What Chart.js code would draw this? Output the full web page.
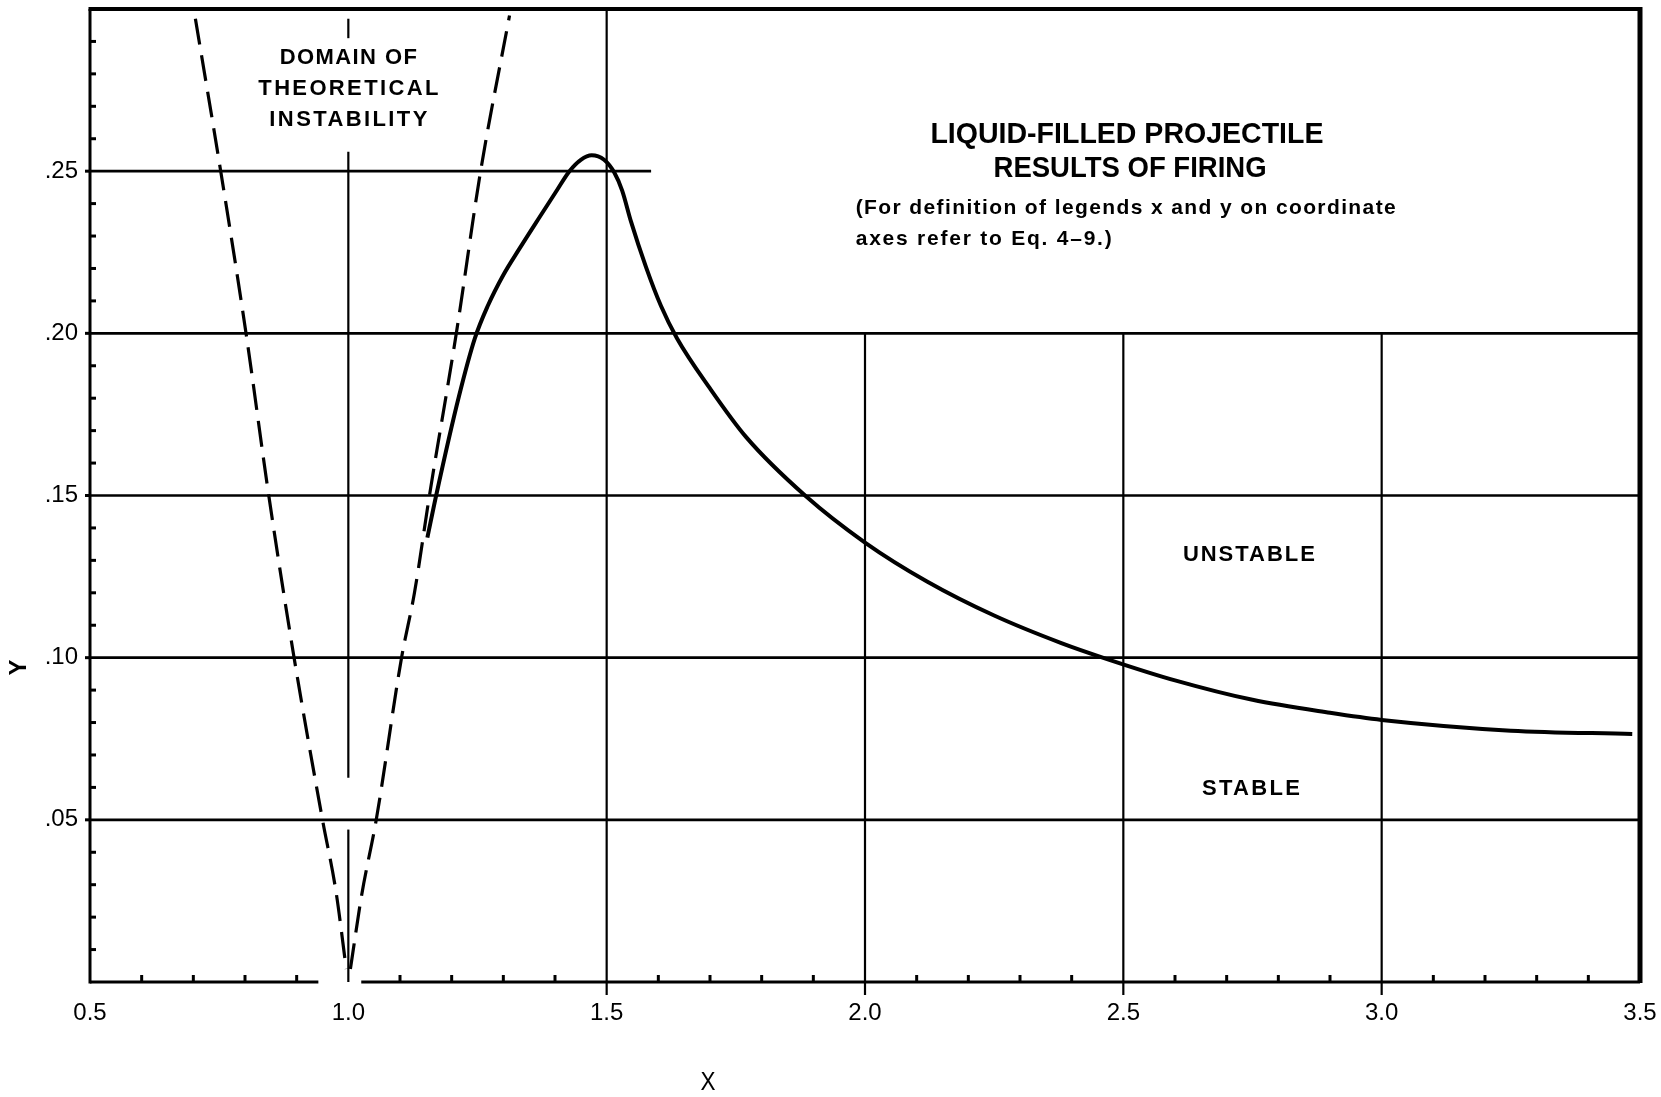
<!DOCTYPE html>
<html>
<head>
<meta charset="utf-8">
<title>Liquid-filled projectile - results of firing</title>
<script src="https://cdn.jsdelivr.net/npm/chart.js@4.4.1/dist/chart.umd.min.js"></script>
<style>
  html, body { margin: 0; padding: 0; background: #fff; }
</style>
</head>
<body>
<canvas id="firingChart" width="1661" height="1097"></canvas>
<script>
// stability boundary from firings (solid curve)
const stabilityX = [1.153, 1.170, 1.214, 1.245, 1.270, 1.300, 1.330, 1.370, 1.400, 1.428, 1.450, 1.471, 1.495, 1.515, 1.530, 1.547, 1.576, 1.605, 1.636, 1.700, 1.770, 1.884, 2.000, 2.120, 2.250, 2.380, 2.470, 2.600, 2.750, 2.900, 3.000, 3.250, 3.485];
const stabilityY = [0.137, 0.150, 0.1805, 0.1985, 0.2085, 0.2180, 0.2258, 0.2358, 0.2432, 0.2500, 0.2535, 0.2549, 0.2535, 0.2495, 0.2440, 0.2345, 0.2205, 0.2085, 0.1985, 0.1830, 0.1680, 0.150, 0.1355, 0.1235, 0.1130, 0.1045, 0.0995, 0.0930, 0.0870, 0.0830, 0.0808, 0.0775, 0.0765];

// domain of theoretical instability (dashed), left and right branches
const leftBoundX = [0.704, 0.753, 0.802, 0.846, 0.895, 0.950, 0.976, 0.996];
const leftBoundY = [0.297, 0.250, 0.200, 0.150, 0.100, 0.050, 0.028, 0.004];
const rightBoundX = [1.004, 1.026, 1.054, 1.103, 1.128, 1.157, 1.209, 1.256, 1.312];
const rightBoundY = [0.004, 0.027, 0.050, 0.100, 0.120, 0.150, 0.200, 0.250, 0.298];

const xTicks = [0.5, 1.0, 1.5, 2.0, 2.5, 3.0, 3.5];
const xTickLabels = ["0.5", "1.0", "1.5", "2.0", "2.5", "3.0", "3.5"];
const yTicks = [0.05, 0.10, 0.15, 0.20, 0.25];
const yTickLabels = [".05", ".10", ".15", ".20", ".25"];

// ruled lines of the printed grid: [value, from, to]
const hRules = [[0.25, 0.5, 1.586], [0.20, 0.5, 3.5], [0.15, 0.5, 3.5], [0.10, 0.5, 3.5], [0.05, 0.5, 3.5]];
const vRules = [[1.0, 0.297, 0.291], [1.0, 0.256, 0.063], [1.0, 0.047, 0.0], [1.5, 0.30, -0.004], [2.0, 0.20, -0.004], [2.5, 0.20, -0.004], [3.0, 0.20, -0.004]];

function pts(xs, ys) {
    return xs.map((x, i) => ({x: x, y: ys[i]}));
}

function seg(ctx, x0, y0, x1, y1) {
    ctx.beginPath();
    ctx.moveTo(x0, y0);
    ctx.lineTo(x1, y1);
    ctx.stroke();
}

// draw text squeezed / spaced to the width it has on the original sheet
function fitText(ctx, text, left, cy, width, font) {
    ctx.font = font;
    ctx.letterSpacing = "0px";
    const natural = ctx.measureText(text).width;
    ctx.textAlign = "left";
    ctx.textBaseline = "middle";
    if (natural > width || text.length < 2) {
        ctx.save();
        ctx.translate(left, cy);
        ctx.scale(width / natural, 1);
        ctx.fillText(text, 0, 0);
        ctx.restore();
    } else {
        ctx.letterSpacing = ((width - natural) / (text.length - 1)) + "px";
        ctx.fillText(text, left, cy);
        ctx.letterSpacing = "0px";
    }
}

const labels = [
    {t: "DOMAIN OF", x: 1.0, y: 0.285, w: 137, font: "bold 22px 'Liberation Sans'", align: "center"},
    {t: "THEORETICAL", x: 1.0, y: 0.2754, w: 180, font: "bold 22px 'Liberation Sans'", align: "center"},
    {t: "INSTABILITY", x: 1.0, y: 0.2658, w: 158, font: "bold 22px 'Liberation Sans'", align: "center"},
    {t: "LIQUID-FILLED PROJECTILE", x: 2.507, y: 0.2613, w: 393, font: "bold 30px 'Liberation Sans'", align: "center"},
    {t: "RESULTS OF FIRING", x: 2.513, y: 0.2508, w: 273, font: "bold 30px 'Liberation Sans'", align: "center"},
    {t: "(For definition of legends x and y on coordinate", x: 1.982, y: 0.2385, w: 540, font: "bold 21px 'Liberation Sans'", align: "left"},
    {t: "axes refer to Eq. 4\u20139.)", x: 1.982, y: 0.229, w: 256, font: "bold 21px 'Liberation Sans'", align: "left"},
    {t: "UNSTABLE", x: 2.743, y: 0.1317, w: 132, font: "bold 22px 'Liberation Sans'", align: "center"},
    {t: "STABLE", x: 2.747, y: 0.0595, w: 98, font: "bold 22px 'Liberation Sans'", align: "center"}
];

const sheetPlugin = {
    id: "sheet",
    beforeDatasetsDraw(chart) {
        const {ctx, chartArea: a, scales: {x, y}} = chart;
        ctx.save();
        ctx.strokeStyle = "#000";
        ctx.lineCap = "butt";

        ctx.lineWidth = 2.6;
        hRules.forEach(([v, f, t]) => {
            const py = y.getPixelForValue(v);
            seg(ctx, x.getPixelForValue(f), py, x.getPixelForValue(t), py);
        });
        ctx.lineWidth = 2.2;
        vRules.forEach(([v, f, t]) => {
            const px = x.getPixelForValue(v);
            seg(ctx, px, y.getPixelForValue(f), px, y.getPixelForValue(t));
        });

        // frame
        ctx.lineWidth = 4;
        seg(ctx, a.left - 1.5, a.top, a.right, a.top);
        ctx.lineWidth = 5;
        seg(ctx, a.right, a.top - 2, a.right, a.bottom + 1);
        ctx.lineWidth = 3;
        seg(ctx, a.left, a.top, a.left, a.bottom + 1.5);
        seg(ctx, a.left, a.bottom, x.getPixelForValue(0.942), a.bottom);
        seg(ctx, x.getPixelForValue(1.025), a.bottom, a.right, a.bottom);

        // small inward ticks
        ctx.lineWidth = 3;
        for (let i = 1; i < 30; i++) {
            if (i % 5 === 0) continue;
            const py = y.getPixelForValue(i / 100);
            seg(ctx, a.left, py, a.left + 6, py);
        }
        for (let i = 6; i < 35; i++) {
            if (i % 5 === 0) continue;
            const px = x.getPixelForValue(i / 10);
            seg(ctx, px, a.bottom, px, a.bottom - 7);
        }
        yTicks.forEach(v => {
            const py = y.getPixelForValue(v);
            seg(ctx, a.left - 5, py, a.left, py);
        });
        ctx.restore();
    },
    afterDraw(chart) {
        const {ctx, chartArea: a, scales: {x, y}} = chart;
        ctx.save();
        ctx.fillStyle = "#000";
        labels.forEach(l => {
            const px = x.getPixelForValue(l.x);
            const left = l.align === "center" ? px - l.w / 2 : px;
            fitText(ctx, l.t, left, y.getPixelForValue(l.y), l.w, l.font);
        });

        // axis names
        fitText(ctx, "X", x.getPixelForValue(1.696) - 7.5, a.bottom + 101, 15, "26px 'Liberation Sans'");
        ctx.translate(19, y.getPixelForValue(0.097));
        ctx.rotate(-Math.PI / 2);
        ctx.font = "bold 24px 'Liberation Sans'";
        ctx.textAlign = "center";
        ctx.textBaseline = "middle";
        ctx.fillText("Y", 0, 0);
        ctx.restore();
    }
};

const ctx = document.getElementById("firingChart").getContext("2d");

const firingChart = new Chart(ctx, {
    type: "line",
    data: {
        datasets: [{
            label: "Results of firing",
            data: pts(stabilityX, stabilityY),
            borderColor: "#000",
            borderWidth: 4,
            pointRadius: 0,
            cubicInterpolationMode: "monotone"
        }, {
            label: "Theoretical instability (left)",
            data: pts(leftBoundX, leftBoundY),
            borderColor: "#000",
            borderWidth: 3.2,
            borderDash: [26, 11],
            pointRadius: 0,
            cubicInterpolationMode: "monotone"
        }, {
            label: "Theoretical instability (right)",
            data: pts(rightBoundX, rightBoundY),
            borderColor: "#000",
            borderWidth: 3.2,
            borderDash: [26, 11],
            pointRadius: 0,
            cubicInterpolationMode: "monotone"
        }]
    },
    options: {
        responsive: false,
        animation: false,
        devicePixelRatio: 1,
        layout: {
            padding: {left: 0, right: 21, top: 9, bottom: 0}
        },
        plugins: {
            legend: {display: false},
            tooltip: {enabled: false}
        },
        scales: {
            x: {
                type: "linear",
                min: 0.5,
                max: 3.5,
                afterBuildTicks: s => { s.ticks = xTicks.map(v => ({value: v})); },
                afterFit: s => { s.height = 115; s.paddingLeft = 0; s.paddingRight = 0; },
                grid: {display: false, drawTicks: false},
                border: {display: false},
                ticks: {
                    autoSkip: false,
                    maxRotation: 0,
                    padding: 17,
                    color: "#000",
                    font: {family: "'Liberation Sans'", size: 24},
                    callback: (v, i) => xTickLabels[i]
                }
            },
            y: {
                type: "linear",
                min: 0,
                max: 0.30,
                afterBuildTicks: s => { s.ticks = yTicks.map(v => ({value: v})); },
                afterFit: s => { s.width = 90; s.paddingTop = 0; s.paddingBottom = 0; },
                grid: {display: false, drawTicks: false},
                border: {display: false},
                ticks: {
                    padding: 12,
                    color: "#000",
                    font: {family: "'Liberation Sans'", size: 24},
                    callback: (v, i) => yTickLabels[i]
                }
            }
        }
    },
    plugins: [sheetPlugin]
});
</script>
</body>
</html>
